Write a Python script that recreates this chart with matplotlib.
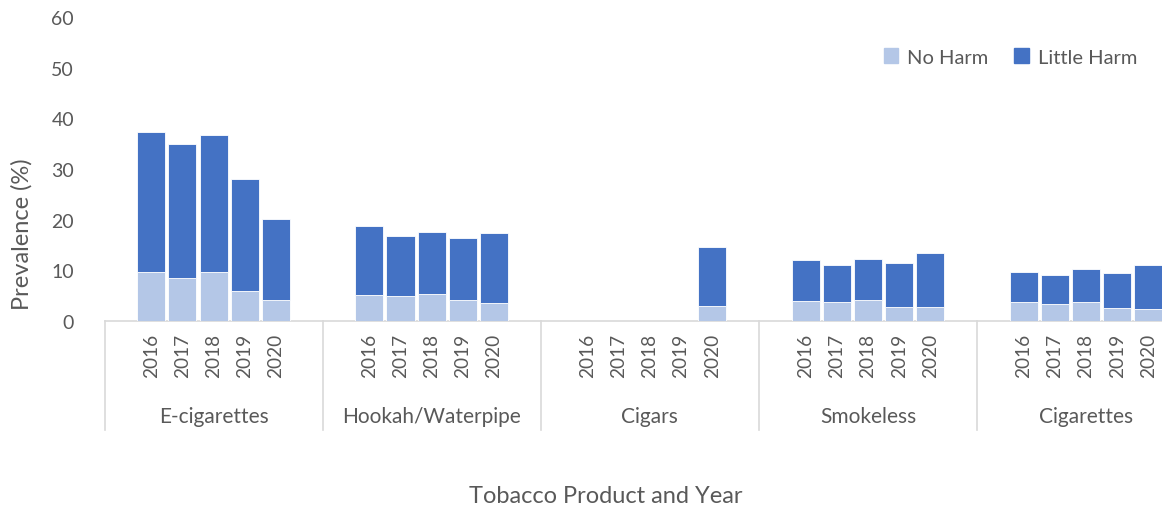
import numpy as np
import matplotlib
matplotlib.use("Agg")
import matplotlib.pyplot as plt
from matplotlib.transforms import blended_transform_factory
from matplotlib.patches import Patch

plt.rcParams['font.family'] = ['Lato', 'DejaVu Sans']

products = ["E-cigarettes", "Hookah/Waterpipe", "Cigars", "Smokeless", "Cigarettes"]
years = ["2016", "2017", "2018", "2019", "2020"]

# No Harm (bottom segment) by product, 2016-2020
ecig_no_harm = [9.7, 8.4, 9.6, 5.9, 4.2]
hookah_no_harm = [5.2, 4.9, 5.3, 4.1, 3.6]
cigars_no_harm = [np.nan, np.nan, np.nan, np.nan, 2.9]
smokeless_no_harm = [3.9, 3.7, 4.2, 2.8, 2.8]
cigarettes_no_harm = [3.7, 3.4, 3.7, 2.5, 2.4]

# Little Harm (top segment) by product, 2016-2020
ecig_little_harm = [27.7, 26.6, 27.1, 22.2, 15.9]
hookah_little_harm = [13.5, 11.8, 12.2, 12.2, 13.8]
cigars_little_harm = [np.nan, np.nan, np.nan, np.nan, 11.8]
smokeless_little_harm = [8.1, 7.3, 8.1, 8.7, 10.7]
cigarettes_little_harm = [6.0, 5.6, 6.5, 7.0, 8.6]

no_harm_all = [ecig_no_harm, hookah_no_harm, cigars_no_harm, smokeless_no_harm, cigarettes_no_harm]
little_harm_all = [ecig_little_harm, hookah_little_harm, cigars_little_harm, smokeless_little_harm, cigarettes_little_harm]

c_no = "#B4C7E7"
c_little = "#4472C4"
txt = "#595959"
line_c = "#D9D9D9"

W, H = 1162, 510
fig = plt.figure(figsize=(W / 100, H / 100), dpi=100)
slot = 31.16
left_px = 104.5
ax = fig.add_axes([left_px / W, (H - 322) / H, 35 * slot / W, (322 - 18) / H])

slots_per_group = 7
for g, (nh, lh) in enumerate(zip(no_harm_all, little_harm_all)):
    for i in range(len(years)):
        if np.isnan(nh[i]):
            continue
        x = g * slots_per_group + 1 + i + 0.5
        ax.bar(x, nh[i], width=0.9, color=c_no, edgecolor="white", linewidth=0.6, zorder=3)
        ax.bar(x, lh[i], bottom=nh[i], width=0.9, color=c_little, edgecolor="white", linewidth=0.6, zorder=3)

ax.set_xlim(0, 35)
ax.set_ylim(0, 60)
ax.set_yticks(range(0, 61, 10))
ax.tick_params(axis='y', length=0, labelsize=14, labelcolor=txt, pad=22)
ax.set_xticks([])
for s in ["top", "right", "left"]:
    ax.spines[s].set_visible(False)
ax.spines["bottom"].set_color(line_c)
ax.spines["bottom"].set_linewidth(1.2)

tr = blended_transform_factory(ax.transData, fig.transFigure)
# year labels
for g in range(len(products)):
    for i, yr in enumerate(years):
        x = g * slots_per_group + 1 + i + 0.5
        fig.text(x, (H - 334) / H, yr, transform=tr, rotation=90, ha="center", va="top",
                 fontsize=13.7, color=txt)
    fig.text(g * slots_per_group + 3.5, (H - 417) / H, products[g], transform=tr,
             ha="center", va="center", fontsize=15, color=txt)
# separators
for g in range(len(products) + 1):
    x = g * slots_per_group
    ax.plot([x, x], [(H - 322) / H, (H - 431) / H], transform=tr, color=line_c,
            linewidth=1.2, clip_on=False, zorder=1)

fig.text(22 / W, (H - 234) / H, "Prevalence (%)", rotation=90, ha="center", va="center",
         fontsize=17, color=txt)
fig.text(606 / W, (H - 497) / H, "Tobacco Product and Year", ha="center", va="center",
         fontsize=17, color=txt)

handles = [Patch(facecolor=c_no, edgecolor=c_no), Patch(facecolor=c_little, edgecolor=c_little)]
leg = fig.legend(handles, ["No Harm", "Little Harm"], loc="center right",
                 bbox_to_anchor=(1137 / W, (H - 58) / H), ncol=2, frameon=False,
                 fontsize=14.5, handlelength=0.7, handleheight=0.7, handletextpad=0.45,
                 columnspacing=1.3, borderpad=0, borderaxespad=0)
for t in leg.get_texts():
    t.set_color(txt)

fig.savefig("out.png", dpi=100)
